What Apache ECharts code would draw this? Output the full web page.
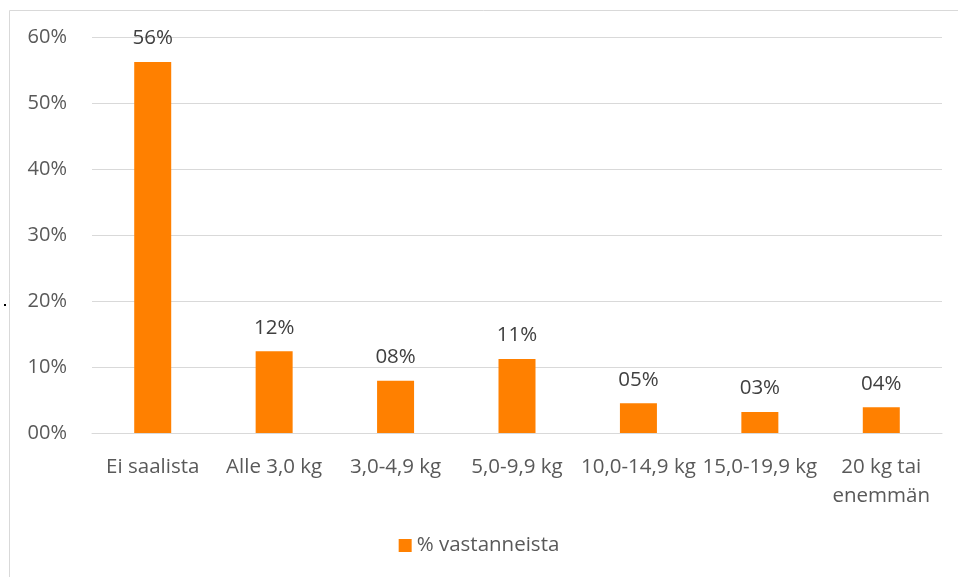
<!DOCTYPE html>
<html>
<head>
<meta charset="utf-8">
<script src="https://cdn.jsdelivr.net/npm/echarts@6/dist/echarts.min.js"></script>
<style>
  html, body { margin: 0; padding: 0; background: #fff; }
  #chart { width: 958px; height: 577px; }
</style>
</head>
<body>
<div id="chart"></div>
<script>
// kategoriat ja arvot (% vastanneista)
var categories = ['Ei saalista', 'Alle 3,0 kg', '3,0-4,9 kg', '5,0-9,9 kg', '10,0-14,9 kg', '15,0-19,9 kg', '20 kg tai\nenemmän'];
var values = [56.2, 12.4, 7.9, 11.2, 4.5, 3.2, 3.9];
var seriesName = '% vastanneista';

function pct(v) {
    var n = Math.round(v);
    return (n < 10 ? '0' : '') + n + '%';
}

var chart = echarts.init(document.getElementById('chart'));
var font = '"Open Sans", "Noto Sans", sans-serif';
chart.setOption({
    animation: false,
    textStyle: { fontFamily: font },
    graphic: [
        {
            type: 'polyline',
            shape: { points: [[9.5, 577], [9.5, 10.5], [958, 10.5]] },
            style: { stroke: '#d9d9d9', fill: null, lineWidth: 1 }
        },
        {
            type: 'rect',
            shape: { x: 4, y: 304, width: 2, height: 2 },
            style: { fill: '#000' }
        }
    ],
    grid: { left: 92, right: 16, top: 37, bottom: 144, containLabel: false },
    legend: {
        data: [seriesName],
        bottom: 16,
        left: 'center',
        itemWidth: 13,
        itemHeight: 13,
        itemGap: 6,
        icon: 'rect',
        textStyle: { fontSize: 20.5, color: '#595959', fontFamily: font }
    },
    xAxis: {
        type: 'category',
        data: categories,
        axisLine: { lineStyle: { color: '#d9d9d9', width: 1 } },
        axisTick: { show: false },
        axisLabel: {
            color: '#595959',
            fontSize: 20.5,
            margin: 20,
            interval: 0,
            lineHeight: 29,
            fontFamily: font
        }
    },
    yAxis: {
        type: 'value',
        min: 0,
        max: 60,
        interval: 10,
        axisLine: { show: false },
        axisTick: { show: false },
        splitLine: { lineStyle: { color: '#d9d9d9', width: 1 } },
        axisLabel: {
            color: '#595959',
            fontSize: 20,
            margin: 25,
            fontFamily: font,
            formatter: function (v) { return pct(v); }
        }
    },
    series: [
        {
            name: seriesName,
            type: 'bar',
            data: values,
            barWidth: 37,
            itemStyle: { color: '#ff8000' },
            label: {
                show: true,
                position: 'top',
                distance: 13,
                color: '#404040',
                fontSize: 20.5,
                fontFamily: font,
                formatter: function (p) { return pct(p.value); }
            }
        }
    ]
});
</script>
</body>
</html>
